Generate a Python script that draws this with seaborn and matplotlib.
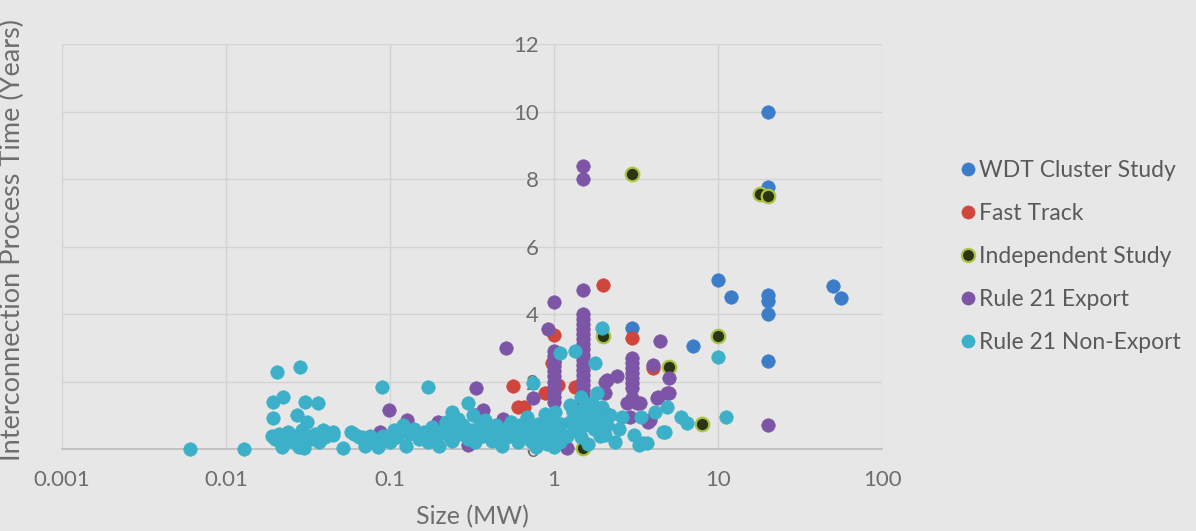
import matplotlib
matplotlib.use("Agg")
import matplotlib.pyplot as plt
import seaborn as sns
import pandas as pd
from matplotlib.lines import Line2D

# ---------------- data ----------------
series_names = ["WDT Cluster Study", "Fast Track", "Independent Study",
                "Rule 21 Export", "Rule 21 Non-Export"]

wdt_x = [20, 20, 10, 12, 20, 20, 20, 50, 56, 20, 7.0, 3.0]
wdt_y = [10.0, 7.75, 5.0, 4.5, 4.55, 4.4, 4.0, 4.83, 4.47, 2.6, 3.05, 3.6]

fast_x = [2.0, 1.0, 3.0, 4.0, 0.56, 0.6, 0.66, 1.34, 1.0, 1.05, 0.88, 2.05, 0.97]
fast_y = [4.86, 3.38, 3.3, 2.4, 1.87, 1.25, 1.25, 1.84, 2.58, 1.9, 1.65, 1.07, 2.55]

ind_x = [3.0, 18, 20, 2.0, 10, 5.0, 8.0, 1.5]
ind_y = [8.15, 7.55, 7.5, 3.35, 3.35, 2.43, 0.74, 0.03]

exp_x = [1.5, 1.5, 20, 1.0, 1.5,
         1.5, 1.5, 1.5, 1.5, 1.5, 1.5, 1.5, 1.5, 1.5, 1.5, 1.5, 1.5, 1.5, 1.5, 1.5, 1.5, 1.5, 1.5, 1.5,
         0.92, 1.0, 1.0, 1.0, 1.0, 1.0, 1.0, 1.0, 1.0, 1.0, 1.0, 1.0,
         0.51, 0.335, 4.4,
         3.0, 3.0, 3.0, 3.0, 3.0, 3.0, 3.0, 3.0, 2.8, 3.2,
         4.0, 5.0, 5.0, 4.3, 2.42, 2.05, 2.05, 2.9, 3.85,
         1.2, 0.74, 0.74, 0.098, 0.127, 0.197, 0.175, 0.37, 0.49, 0.087, 0.3, 0.33,
         3.35, 3.75, 4.25, 4.9, 2.1, 0.2]
exp_y = [8.4, 8.0, 0.7, 4.37, 4.7,
         4.0, 3.85, 3.7, 3.55, 3.4, 3.25, 3.1, 2.95, 2.8, 2.65, 2.5, 2.35, 2.2, 2.05, 1.9, 1.75, 1.6, 1.45, 1.3,
         3.55, 2.9, 2.75, 2.6, 2.45, 2.3, 2.15, 2.0, 1.85, 1.7, 1.55, 1.4,
         3.0, 1.8, 3.2,
         2.7, 2.55, 2.4, 2.25, 2.1, 1.95, 1.8, 1.5, 1.35, 1.35,
         2.5, 2.1, 1.65, 1.55, 2.15, 2.0, 1.65, 0.95, 0.85,
         0.03, 1.5, 0.2, 1.15, 0.85, 0.8, 0.5, 1.15, 0.9, 0.5, 0.12, 1.0,
         1.36, 0.8, 1.5, 1.65, 2.05, 0.77]

non_x = [0.006, 0.0129, 0.0205, 0.0283, 0.0194, 0.0223, 0.0302, 0.0364, 0.0194, 0.027, 0.031,
         0.019, 0.02, 0.021, 0.022, 0.023, 0.024, 0.025, 0.026, 0.027, 0.028, 0.029, 0.03,
         0.031, 0.033, 0.035, 0.037, 0.04, 0.045, 0.028, 0.022,
         0.039, 0.045, 0.03, 0.052, 0.058, 0.067,
         0.089, 0.17, 0.3, 0.24, 0.74,
         0.06, 0.065, 0.07, 0.075,
         0.08, 0.085, 0.09, 0.1, 0.105, 0.11, 0.12, 0.125, 0.13, 0.14, 0.15, 0.16, 0.17,
         0.18, 0.19, 0.2, 0.21, 0.22, 0.23, 0.24, 0.25, 0.26, 0.27, 0.28, 0.3, 0.31, 0.32,
         0.33, 0.35, 0.37, 0.38, 0.4, 0.42, 0.44, 0.46, 0.48, 0.5, 0.52, 0.55, 0.58, 0.6,
         0.62, 0.65, 0.68, 0.7, 0.72, 0.75, 0.78, 0.8, 0.82, 0.85, 0.88, 0.9, 0.92, 0.95,
         0.98, 1.0, 1.0, 1.02, 1.05, 1.08, 1.1,
         1.96, 1.09, 1.34, 1.78, 10, 11.2, 5.9, 6.5, 4.9, 4.1, 4.75, 3.4, 3.05, 3.5, 3.3,
         2.6, 2.35, 2.05, 1.96, 1.83, 1.45, 1.25, 4.6, 3.7,
         1.3, 1.4, 1.5, 1.55, 1.6, 1.7, 1.75, 1.8, 1.85, 1.9, 2.1, 2.2, 1.45, 1.6, 1.35,
         1.25, 1.2, 2.5]
non_y = [0.0, 0.0, 2.28, 2.43, 1.4, 1.55, 1.4, 1.36, 0.92, 1.0, 0.8,
         0.4, 0.3, 0.45, 0.2, 0.35, 0.5, 0.25, 0.4, 0.15, 0.35, 0.55, 0.25,
         0.4, 0.3, 0.45, 0.2, 0.35, 0.5, 0.05, 0.05,
         0.56, 0.42, 0.03, 0.03, 0.5, 0.36,
         1.85, 1.85, 1.35, 1.1, 1.95,
         0.45, 0.35, 0.1, 0.4,
         0.3, 0.05, 0.4, 0.2, 0.55, 0.35, 0.7, 0.1, 0.45, 0.6, 0.3, 0.5, 0.2,
         0.65, 0.35, 0.1, 0.55, 0.8, 0.4, 0.25, 0.6, 0.9, 0.45, 0.7, 0.3, 0.55, 1.0,
         0.2, 0.65, 0.4, 0.85, 0.5, 0.25, 0.7, 0.45, 0.1, 0.6, 0.35, 0.8, 0.5, 0.2,
         0.7, 0.4, 0.95, 0.6, 0.25, 0.5, 0.05, 0.75, 0.3, 0.55, 1.05, 0.15, 0.4, 0.8,
         0.6, 0.3, 0.05, 1.1, 0.5, 0.2, 0.75,
         3.6, 2.85, 2.9, 2.55, 2.72, 0.95, 0.95, 0.77, 1.25, 1.1, 0.5, 0.95, 0.42, 0.18, 0.12,
         0.95, 0.2, 0.42, 1.25, 1.65, 1.55, 1.3, 0.5, 0.18,
         1.1, 0.9, 1.2, 0.7, 1.0, 1.35, 0.6, 1.1, 0.85, 0.4, 0.7, 1.0, 0.35, 0.15, 0.55,
         0.8, 0.4, 0.6]

x_ticks = [0.001, 0.01, 0.1, 1, 10, 100]
x_tick_labels = ["0.001", "0.01", "0.1", "1", "10", "100"]
y_ticks = [0, 2, 4, 6, 8, 10, 12]

# ---------------- style ----------------
colors = {"WDT Cluster Study": "#3b7dc8",
          "Fast Track": "#d1463c",
          "Independent Study": "#2c3512",
          "Rule 21 Export": "#7c55a6",
          "Rule 21 Non-Export": "#3bb0c8"}
edges = {"Independent Study": "#aac444"}

sns.set_theme(style="whitegrid")
plt.rcParams["font.family"] = ["Lato", "DejaVu Sans"]

frames = []
for name, xs, ys in zip(series_names,
                        [wdt_x, fast_x, ind_x, exp_x, non_x],
                        [wdt_y, fast_y, ind_y, exp_y, non_y]):
    frames.append(pd.DataFrame({"size": xs, "time": ys, "type": name}))
df = pd.concat(frames, ignore_index=True)

bg = "#e7e7e7"
txt = "#6e6e6e"
fig = plt.figure(figsize=(11.96, 5.31), dpi=100, facecolor=bg)
ax = fig.add_axes([0.0518, 0.1544, 0.6858, 0.7627])
ax.set_facecolor(bg)

for name in series_names:
    sub = df[df["type"] == name]
    sns.scatterplot(data=sub, x="size", y="time", ax=ax, s=95,
                    color=colors[name], edgecolor=edges.get(name, colors[name]),
                    linewidth=1.6 if name in edges else 0.4,
                    clip_on=False, zorder=3, legend=False)

ax.set_xscale("log")
ax.set_xlim(0.001, 100)
ax.set_ylim(0, 12)
ax.set_xticks(x_ticks)
ax.set_xticklabels(x_tick_labels)
ax.set_yticks(y_ticks)
ax.minorticks_off()
ax.grid(True, color="#d3d3d3", linewidth=1.0)
ax.set_axisbelow(True)

for sp in ["top", "right", "left"]:
    ax.spines[sp].set_visible(False)
ax.spines["bottom"].set_color("#c0c0c0")
ax.spines["bottom"].set_linewidth(1.3)
ax.spines["left"].set_position(("data", 1))

ax.tick_params(axis="both", length=0, labelsize=16, labelcolor=txt)
ax.tick_params(axis="y", pad=11)
ax.tick_params(axis="x", pad=15)

ax.set_xlabel("Size (MW)", fontsize=18, color=txt, labelpad=11)
ax.set_ylabel("Interconnection Process Time (Years)", fontsize=19.5, color=txt)
ax.yaxis.set_label_coords(-0.045, 0.515)

handles = [Line2D([0], [0], marker="o", linestyle="", markersize=9.5,
                  markerfacecolor=colors[n], markeredgecolor=edges.get(n, colors[n]),
                  markeredgewidth=1.6 if n in edges else 0.4) for n in series_names]
leg = ax.legend(handles, series_names, loc="upper left",
                bbox_to_anchor=(0.792, 0.716), bbox_transform=fig.transFigure,
                frameon=False, fontsize=16.5, handletextpad=0.0,
                labelspacing=0.96, handlelength=1.0, borderaxespad=0)
for t in leg.get_texts():
    t.set_color("#5a5a5a")

fig.savefig("out.png", dpi=100, facecolor=bg)
